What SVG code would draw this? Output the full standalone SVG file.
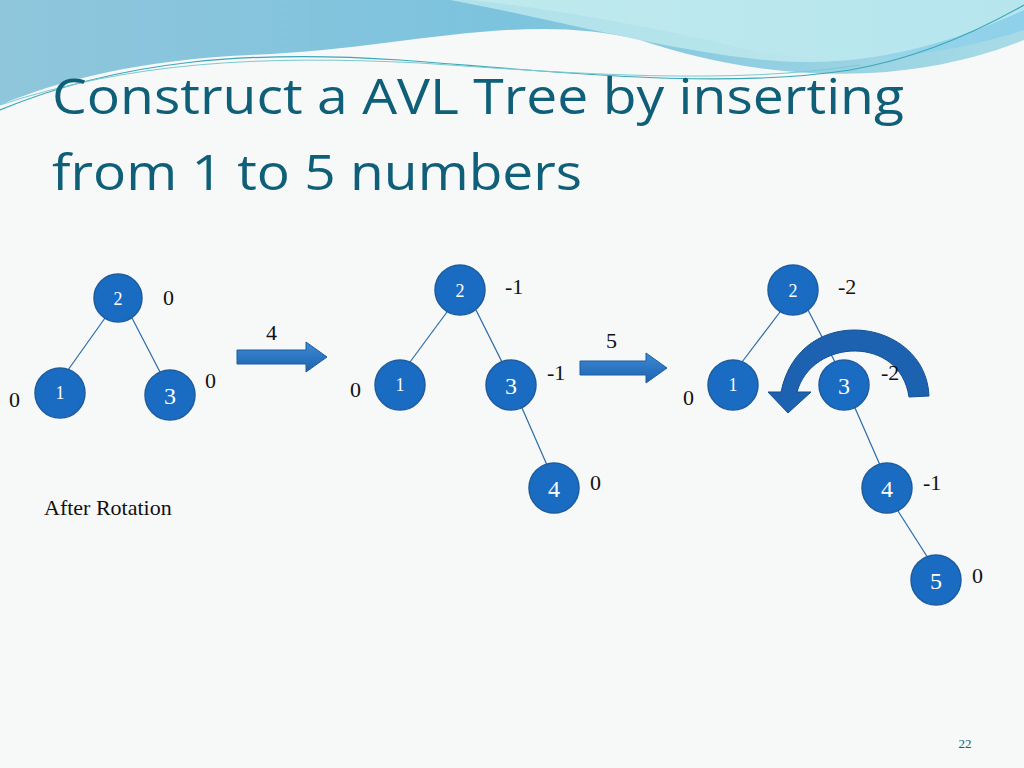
<svg xmlns="http://www.w3.org/2000/svg" width="1024" height="768" viewBox="0 0 1024 768">
<defs>
<linearGradient id="g1" x1="0" y1="0" x2="1" y2="0"><stop offset="0" stop-color="#8fc6dc"/><stop offset="0.5" stop-color="#7cc3dd"/><stop offset="1" stop-color="#a8dbe6"/></linearGradient>
<linearGradient id="g2" x1="0" y1="0" x2="1" y2="0"><stop offset="0" stop-color="#a9e0e8"/><stop offset="1" stop-color="#8fd0ea"/></linearGradient>
<linearGradient id="ar" x1="0" y1="0" x2="0" y2="1"><stop offset="0" stop-color="#3d8ad4"/><stop offset="1" stop-color="#1d62b0"/></linearGradient>
<style>
.n{fill:#1a6cc2;stroke:#1e5c9e;stroke-width:1.5}
.nt{fill:#fff;font-family:"Liberation Serif",serif;font-size:24px;text-anchor:middle}
.nts{fill:#fff;font-family:"Liberation Serif",serif;font-size:18px;text-anchor:middle}
.b{fill:#111;font-family:"Liberation Serif",serif;font-size:22px}
.e{stroke:#2a6aa8;stroke-width:1.2;fill:none}
</style>
</defs>
<rect width="1024" height="768" fill="#f7f8f8"/>
<path d="M0,0 H1024 V40 C900,90 760,80 640,40 C520,10 400,50 250,55 C140,60 60,80 0,105 Z" fill="url(#g1)"/>
<path d="M470,0 H1024 V30 C930,60 820,70 730,45 C640,25 560,10 470,0 Z" fill="url(#g2)"/>
<path d="M450,0 C560,20 700,60 800,62 C880,64 960,40 1024,10 V0 Z" fill="#c8eef0" opacity="0.7"/>
<path d="M0,110 C120,60 250,50 400,60 C560,72 720,90 850,70 C920,58 980,30 1024,5" fill="none" stroke="#3aa8b8" stroke-width="1.2"/>
<path d="M0,105 C130,62 260,55 420,63 C580,74 730,85 860,65" fill="none" stroke="#7ccad0" stroke-width="1"/>
<text x="52" y="114" font-family="Open Sans,'Liberation Sans',sans-serif" font-size="50" fill="#0f5f78" textLength="852" lengthAdjust="spacingAndGlyphs">Construct a AVL Tree by inserting</text>
<text x="52" y="190" font-family="Open Sans,'Liberation Sans',sans-serif" font-size="50" fill="#0f5f78" textLength="530" lengthAdjust="spacingAndGlyphs">from 1 to 5 numbers</text>
<g id="connectors">
<line class="e" x1="105" y1="318" x2="68" y2="370"/>
<line class="e" x1="132" y1="318" x2="160" y2="372"/>
<line class="e" x1="447" y1="312" x2="410" y2="362"/>
<line class="e" x1="476" y1="310" x2="502" y2="362"/>
<line class="e" x1="522" y1="408" x2="547" y2="465"/>
<line class="e" x1="780" y1="312" x2="742" y2="362"/>
<line class="e" x1="808" y1="310" x2="835" y2="362"/>
<line class="e" x1="855" y1="408" x2="880" y2="465"/>
<line class="e" x1="898" y1="511" x2="928" y2="558"/>
</g>
<g id="rotation"><path d="M929,396 C926,318 800,300 781,392 L768,392 L788,413 L811,392 L797,392 C812,338 900,335 909,397 Z" fill="#1d62b0" stroke="#164f8f"/></g>
<g id="tree1">
<g id="t1n2"><circle class="n" cx="118" cy="298" r="24"/><text class="nts" x="118" y="305">2</text></g>
<g id="t1n1"><circle class="n" cx="60" cy="393" r="25"/><text class="nts" x="60" y="399">1</text></g>
<g id="t1n3"><circle class="n" cx="170" cy="395" r="25"/><text class="nt" x="170" y="404">3</text></g>
<text class="b" x="163" y="305">0</text><text class="b" x="9" y="407">0</text><text class="b" x="205" y="388">0</text>
<text class="b" x="44" y="515">After Rotation</text>
</g>
<g id="arrow4"><path d="M237,350 H306 V342 L327,357 L306,372 V364 H237 Z" fill="url(#ar)" stroke="#1e5c9e"/><text class="b" x="266" y="340">4</text></g>
<g id="tree2">
<g id="t2n2"><circle class="n" cx="460" cy="290" r="25"/><text class="nts" x="460" y="297">2</text></g>
<g id="t2n1"><circle class="n" cx="400" cy="385" r="25"/><text class="nts" x="400" y="391">1</text></g>
<g id="t2n3"><circle class="n" cx="511" cy="385" r="25"/><text class="nt" x="511" y="394">3</text></g>
<g id="t2n4"><circle class="n" cx="554" cy="488" r="25"/><text class="nt" x="554" y="497">4</text></g>
<text class="b" x="505" y="294">-1</text><text class="b" x="350" y="397">0</text><text class="b" x="547" y="380">-1</text><text class="b" x="590" y="490">0</text>
</g>
<g id="arrow5"><path d="M580,361 H646 V353 L667,368 L646,383 V375 H580 Z" fill="url(#ar)" stroke="#1e5c9e"/><text class="b" x="606" y="348">5</text></g>
<g id="tree3">
<g id="t3n2"><circle class="n" cx="793" cy="290" r="25"/><text class="nts" x="793" y="297">2</text></g>
<g id="t3n1"><circle class="n" cx="733" cy="385" r="25"/><text class="nts" x="733" y="391">1</text></g>
<g id="t3n3"><circle class="n" cx="844" cy="385" r="25"/><text class="nt" x="844" y="394">3</text></g>
<g id="t3n4"><circle class="n" cx="887" cy="488" r="25"/><text class="nt" x="887" y="497">4</text></g>
<g id="t3n5"><circle class="n" cx="936" cy="580" r="25"/><text class="nt" x="936" y="589">5</text></g>
<text class="b" x="838" y="294">-2</text><text class="b" x="683" y="405">0</text><text class="b" x="881" y="380">-2</text><text class="b" x="923" y="490">-1</text><text class="b" x="972" y="583">0</text>
</g>
<text x="965" y="748" font-family="'Liberation Serif',serif" font-size="13" fill="#0f5f78" text-anchor="middle">22</text>
</svg>
